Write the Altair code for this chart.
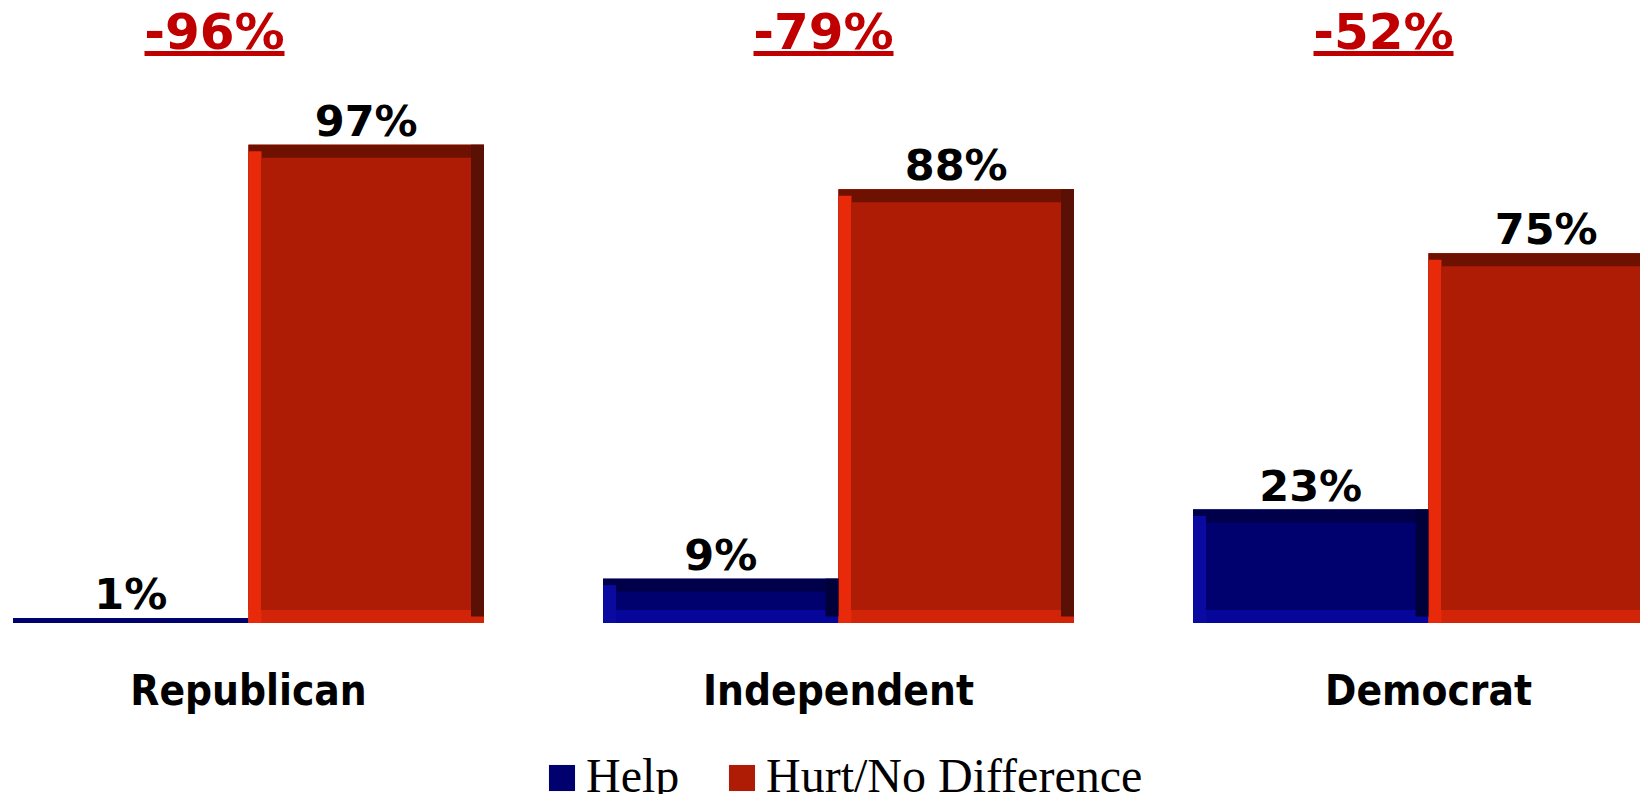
import altair as alt
import pandas as pd

# ---- data ----
parties = ["Republican", "Independent", "Democrat"]
series = ["Help", "Hurt/No Difference"]
help_vals = [1, 9, 23]
hurt_vals = [97, 88, 75]
net_vals = [-96, -79, -52]

rows = []
for p, h, u in zip(parties, help_vals, hurt_vals):
    rows.append({"party": p, "series": series[0], "value": h})
    rows.append({"party": p, "series": series[1], "value": u})
df = pd.DataFrame(rows)
net_df = pd.DataFrame({"party": parties, "net": net_vals})
party_df = pd.DataFrame({"party": parties})

# ---- style ----
BLUE_FACE, RED_FACE = "#00006E", "#AE1C05"
BLUE_TOP, RED_TOP = "#00004A", "#6E1100"
BLUE_RIGHT, RED_RIGHT = "#00003A", "#5A1005"
BLUE_LEFT, RED_LEFT = "#0A0AA0", "#E8290A"
BLUE_BOTTOM, RED_BOTTOM = "#06069A", "#D22408"
NET_RED = "#C00000"
BEV = 13
SUB = 235.5  # width of one bar (sub-band)
TOP = 8      # top padding

xscale = alt.Scale(domain=parties, range=[5, 1656], paddingInner=0.2017, paddingOuter=0)
yscale = alt.Scale(domain=[0, 100], range=[615 - TOP, 122 - TOP], nice=False, zero=True)
X = alt.X("party:N", scale=xscale, axis=None, sort=parties)
Y = alt.Y("value:Q", scale=yscale, axis=None)


def XO(rng, pi):
    return alt.XOffset(
        "series:N",
        scale=alt.Scale(domain=series, range=rng, paddingInner=pi, paddingOuter=0),
        sort=series,
    )


XO_FULL = XO([0, 2 * SUB], 0)
XO_LEFT = XO([0, SUB + BEV], 1 - BEV / SUB)
XO_RIGHT = XO([SUB - BEV, 2 * SUB], 1 - BEV / SUB)
XO_FACE = XO([BEV, 2 * SUB - BEV], 2 * BEV / SUB)
XO_TEXT = alt.XOffset(
    "series:N",
    scale=alt.Scale(type="point", domain=series, range=[0, 2 * SUB], padding=0.5),
    sort=series,
)


def cond(blue, red):
    return alt.condition("datum.series == 'Help'", alt.value(blue), alt.value(red))


base = alt.Chart(df).encode(x=X, y=Y, y2=alt.datum(0))
big = base.transform_filter("datum.value >= 6")

layers = []
# full bar in face colour (drives legend)
layers.append(
    base.mark_bar(clip=True).encode(
        xOffset=XO_FULL,
        color=alt.Color(
            "series:N",
            scale=alt.Scale(domain=series, range=[BLUE_FACE, RED_FACE]),
            sort=series,
            legend=alt.Legend(
                title=None,
                orient="none",
                legendX=530,
                legendY=746 - TOP,
                direction="horizontal",
                symbolType="square",
                symbolSize=680,
                symbolStrokeWidth=0,
                symbolOpacity=1,
                labelFont="Liberation Serif",
                labelFontSize=48,
                labelColor="black",
                labelOffset=0,
                columnPadding=38,
                labelLimit=800,
            ),
        ),
    )
)
# bevel: bottom
layers.append(big.mark_bar(clip=True).encode(xOffset=XO_FULL, color=cond(BLUE_BOTTOM, RED_BOTTOM)))
# bevel: top
layers.append(
    big.mark_bar(clip=True, y2Offset=-BEV).encode(xOffset=XO_FULL, color=cond(BLUE_TOP, RED_TOP))
)
# bevel: left
layers.append(
    big.mark_bar(clip=True, yOffset=BEV * 0.5).encode(xOffset=XO_LEFT, color=cond(BLUE_LEFT, RED_LEFT))
)
# bevel: right
layers.append(
    big.mark_bar(clip=True, y2Offset=-BEV * 0.5).encode(xOffset=XO_RIGHT, color=cond(BLUE_RIGHT, RED_RIGHT))
)
# face
layers.append(
    big.mark_bar(clip=True, yOffset=BEV, y2Offset=-BEV).encode(xOffset=XO_FACE, color=cond(BLUE_FACE, RED_FACE))
)

# value labels (centred over each bar)
layers.append(
    alt.Chart(df)
    .transform_calculate(label="datum.value + '%'")
    .mark_text(font="DejaVu Sans", fontWeight="bold", fontSize=43, dy=-9,
               baseline="alphabetic", color="black")
    .encode(x=X, xOffset=XO_TEXT, y=Y, text="label:N")
)

# category labels
layers.append(
    alt.Chart(party_df)
    .mark_text(font="DejaVu Sans Condensed", fontWeight="bold", fontSize=42,
               baseline="alphabetic", color="black")
    .encode(x=X, y=alt.value(697 - TOP), text="party:N")
)

# net labels with underline
net_dx = {"Republican": -34, "Independent": -15, "Democrat": -45}
for p in parties:
    d = net_dx[p]
    nb = alt.Chart(net_df).transform_filter(alt.datum.party == p)
    layers.append(
        nb.transform_calculate(label="datum.net + '%'")
        .mark_text(font="DejaVu Sans", fontWeight="bold", fontSize=50, dx=d,
                   baseline="alphabetic", color=NET_RED)
        .encode(x=X, y=alt.value(41 - TOP), text="label:N")
    )
    layers.append(
        nb.mark_rule(strokeWidth=5, color=NET_RED, xOffset=d - 70, x2Offset=d + 70)
        .encode(x=X, x2=alt.X2("party:N"), y=alt.value(45.5 - TOP))
    )

chart = (
    alt.layer(*layers)
    .resolve_scale(xOffset="independent")
    .properties(
        width=1632,
        height=786 - TOP,
        autosize=alt.AutoSizeParams(type="none"),
        padding={"left": 0, "right": 0, "top": TOP, "bottom": 0},
    )
    .configure_view(stroke=None)
)

chart.save("out.html", embed_options={"renderer": "svg", "actions": False})
